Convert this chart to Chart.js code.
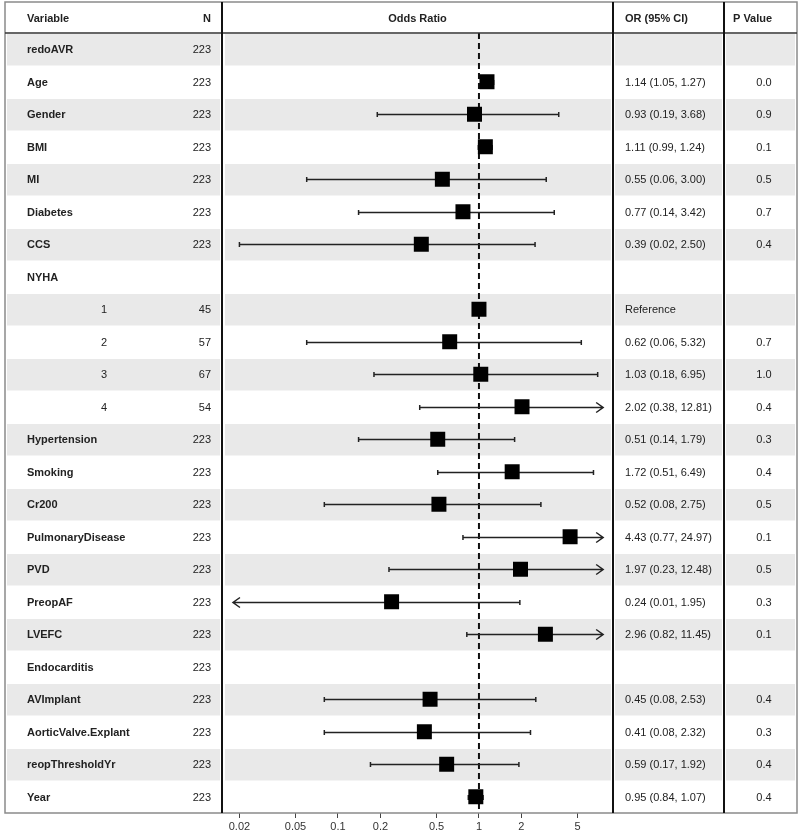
<!DOCTYPE html>
<html>
<head>
<meta charset="utf-8">
<script src="https://cdn.jsdelivr.net/npm/chart.js@4.4.1/dist/chart.umd.min.js"></script>
<style>
  html, body { margin: 0; padding: 0; background: #fff; }
  canvas { display: block; }
</style>
</head>
<body>
<canvas id="forest" width="800" height="834"></canvas>
<script>
// Rows of the forest plot, top to bottom
const variables = ['redoAVR', 'Age', 'Gender', 'BMI', 'MI', 'Diabetes', 'CCS', 'NYHA', '1', '2', '3', '4',
  'Hypertension', 'Smoking', 'Cr200', 'PulmonaryDisease', 'PVD', 'PreopAF', 'LVEFC', 'Endocarditis',
  'AVImplant', 'AorticValve.Explant', 'reopThresholdYr', 'Year'];
const subLevel = [false, false, false, false, false, false, false, false, true, true, true, true,
  false, false, false, false, false, false, false, false, false, false, false, false];
const nValues = [223, 223, 223, 223, 223, 223, 223, null, 45, 57, 67, 54,
  223, 223, 223, 223, 223, 223, 223, 223, 223, 223, 223, 223];
const oddsRatio = [null, 1.14, 0.93, 1.11, 0.55, 0.77, 0.39, null, 1, 0.62, 1.03, 2.02,
  0.51, 1.72, 0.52, 4.43, 1.97, 0.24, 2.96, null, 0.45, 0.41, 0.59, 0.95];
const lowerCI = [null, 1.05, 0.19, 0.99, 0.06, 0.14, 0.02, null, null, 0.06, 0.18, 0.38,
  0.14, 0.51, 0.08, 0.77, 0.23, 0.01, 0.82, null, 0.08, 0.08, 0.17, 0.84];
const upperCI = [null, 1.27, 3.68, 1.24, 3.00, 3.42, 2.50, null, null, 5.32, 6.95, 12.81,
  1.79, 6.49, 2.75, 24.97, 12.48, 1.95, 11.45, null, 2.53, 2.32, 1.92, 1.07];
const pValues = ['', '0.0', '0.9', '0.1', '0.5', '0.7', '0.4', '', '', '0.7', '1.0', '0.4',
  '0.3', '0.4', '0.5', '0.1', '0.5', '0.3', '0.1', '', '0.4', '0.3', '0.4', '0.4'];
const referenceRow = 8;
const tickValues = [0.02, 0.05, 0.1, 0.2, 0.5, 1, 2, 5];
const tickLabels = ['0.02', '0.05', '0.1', '0.2', '0.5', '1', '2', '5'];

// layout of the table columns (pixels)
const colLines = [222, 613, 724];
const frame = { left: 5, right: 797, top: 2, header: 33, bottom: 813 };
const arrowMin = 0.018, arrowMax = 7.6;
const textColor = '#222';

function ciText(i) {
  if (i === referenceRow) return 'Reference';
  if (oddsRatio[i] == null) return '';
  return `${oddsRatio[i].toFixed(2)} (${lowerCI[i].toFixed(2)}, ${upperCI[i].toFixed(2)})`;
}

// background bands, reference line and confidence intervals
const backgroundPlugin = {
  id: 'forestBackground',
  beforeDatasetsDraw(chart) {
    const ctx = chart.ctx;
    const x = chart.scales.x, y = chart.scales.y;
    const half = (y.getPixelForValue(1) - y.getPixelForValue(0)) / 2;
    const spans = [[frame.left + 2, colLines[0] - 2], [colLines[0] + 3, colLines[1] - 2],
      [colLines[1] + 2, colLines[2] - 2], [colLines[2] + 2, frame.right - 2]];
    ctx.save();
    ctx.fillStyle = '#e9e9e9';
    variables.forEach((v, i) => {
      if (i % 2 !== 0) return;
      const yc = y.getPixelForValue(i);
      spans.forEach(s => ctx.fillRect(s[0], yc - half + 1, s[1] - s[0], 2 * half - 1));
    });

    // dashed line at OR = 1
    const x1 = x.getPixelForValue(1);
    ctx.strokeStyle = '#111';
    ctx.lineWidth = 2;
    ctx.setLineDash([6, 4]);
    ctx.beginPath();
    ctx.moveTo(x1, frame.header);
    ctx.lineTo(x1, frame.bottom);
    ctx.stroke();
    ctx.setLineDash([]);

    // CI segments with caps or arrows
    ctx.strokeStyle = '#222';
    ctx.lineWidth = 1.5;
    variables.forEach((v, i) => {
      if (lowerCI[i] == null) return;
      const yc = Math.round(y.getPixelForValue(i)) + 0.5;
      const lo = x.getPixelForValue(Math.max(lowerCI[i], arrowMin));
      const hi = x.getPixelForValue(Math.min(upperCI[i], arrowMax));
      ctx.beginPath();
      ctx.moveTo(lo, yc);
      ctx.lineTo(hi, yc);
      if (lowerCI[i] < arrowMin) {
        ctx.moveTo(lo + 7, yc - 5); ctx.lineTo(lo, yc); ctx.lineTo(lo + 7, yc + 5);
      } else {
        ctx.moveTo(lo, yc - 2.5); ctx.lineTo(lo, yc + 2.5);
      }
      if (upperCI[i] > arrowMax) {
        ctx.moveTo(hi - 7, yc - 5); ctx.lineTo(hi, yc); ctx.lineTo(hi - 7, yc + 5);
      } else {
        ctx.moveTo(hi, yc - 2.5); ctx.lineTo(hi, yc + 2.5);
      }
      ctx.stroke();
    });
    ctx.restore();
  }
};

// table text, column lines and outer frame
const tablePlugin = {
  id: 'forestTable',
  afterDraw(chart) {
    const ctx = chart.ctx;
    const y = chart.scales.y;
    ctx.save();
    ctx.fillStyle = textColor;
    ctx.textBaseline = 'middle';

    // header
    const hy = (frame.top + frame.header) / 2 + 1;
    ctx.font = 'bold 11px "Liberation Sans", Arial, sans-serif';
    ctx.textAlign = 'left';
    ctx.fillText('Variable', 27, hy);
    ctx.fillText('OR (95% CI)', 625, hy);
    ctx.fillText('P Value', 733, hy);
    ctx.textAlign = 'right';
    ctx.fillText('N', 211, hy);
    ctx.textAlign = 'center';
    ctx.fillText('Odds Ratio', (colLines[0] + colLines[1]) / 2, hy);

    variables.forEach((v, i) => {
      const yc = y.getPixelForValue(i) + 1;
      if (subLevel[i]) {
        ctx.font = '11px "Liberation Sans", Arial, sans-serif';
        ctx.textAlign = 'center';
        ctx.fillText(v, 104, yc);
      } else {
        ctx.font = 'bold 11px "Liberation Sans", Arial, sans-serif';
        ctx.textAlign = 'left';
        ctx.fillText(v, 27, yc);
      }
      ctx.font = '11px "Liberation Sans", Arial, sans-serif';
      if (nValues[i] != null) {
        ctx.textAlign = 'right';
        ctx.fillText(String(nValues[i]), 211, yc);
      }
      ctx.textAlign = 'left';
      ctx.fillText(ciText(i), 625, yc);
      ctx.textAlign = 'center';
      ctx.fillText(pValues[i], 764, yc);
    });

    // frame
    ctx.strokeStyle = '#8a8a8a';
    ctx.lineWidth = 1.5;
    ctx.strokeRect(frame.left, frame.top, frame.right - frame.left, frame.bottom - frame.top);
    ctx.strokeStyle = '#333';
    ctx.lineWidth = 1.5;
    ctx.beginPath();
    ctx.moveTo(frame.left, frame.header);
    ctx.lineTo(frame.right, frame.header);
    ctx.stroke();
    ctx.strokeStyle = '#111';
    ctx.lineWidth = 2;
    colLines.forEach(cx => {
      ctx.beginPath();
      ctx.moveTo(cx, frame.top);
      ctx.lineTo(cx, frame.bottom);
      ctx.stroke();
    });
    ctx.restore();
  }
};

const points = [];
variables.forEach((v, i) => {
  if (oddsRatio[i] != null) points.push({ x: oddsRatio[i], y: i });
});

new Chart(document.getElementById('forest'), {
  type: 'scatter',
  data: {
    datasets: [{
      data: points,
      pointStyle: 'rect',
      pointRadius: 10.6,
      pointBackgroundColor: '#000',
      pointBorderColor: '#000',
      pointBorderWidth: 0
    }]
  },
  options: {
    responsive: false,
    animation: false,
    devicePixelRatio: 1,
    layout: { padding: { left: 225, right: 190, top: 33, bottom: 0 } },
    plugins: { legend: { display: false }, tooltip: { enabled: false } },
    scales: {
      x: {
        type: 'logarithmic',
        min: 0.0158,
        max: 8.5,
        afterBuildTicks: (scale) => { scale.ticks = tickValues.map(v => ({ value: v })); },
        afterFit: (scale) => { scale.height = 21; },
        ticks: {
          autoSkip: false,
          maxRotation: 0,
          padding: 2,
          color: '#333',
          font: { family: '"Liberation Sans", Arial, sans-serif', size: 11 },
          callback: (value) => {
            const k = tickValues.indexOf(value);
            return k >= 0 ? tickLabels[k] : '';
          }
        },
        grid: { drawOnChartArea: false, drawTicks: true, tickLength: 5, color: '#444' },
        border: { display: false }
      },
      y: {
        type: 'linear',
        min: -0.5,
        max: variables.length - 0.5,
        reverse: true,
        display: false
      }
    }
  },
  plugins: [backgroundPlugin, tablePlugin]
});
</script>
</body>
</html>
